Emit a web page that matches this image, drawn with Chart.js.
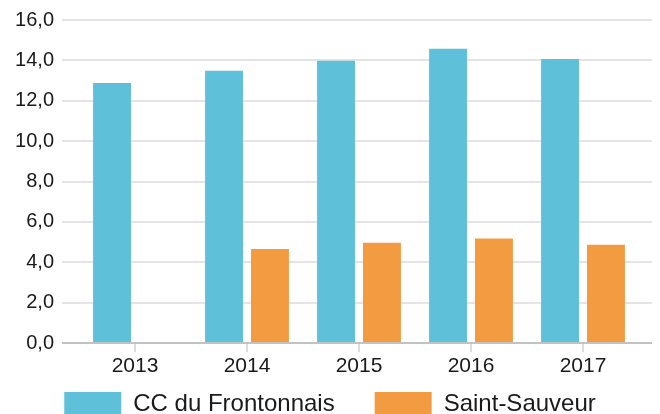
<!DOCTYPE html>
<html>
<head>
<meta charset="utf-8">
<script src="https://cdn.jsdelivr.net/npm/chart.js@4"></script>
<style>
    html, body { margin: 0; padding: 0; background: #fff; overflow: hidden; }
    #wrap { width: 660px; height: 426px; }
</style>
</head>
<body>
<div id="wrap"><canvas id="barChart"></canvas></div>
<script>
// Chart data
const years = ["2013", "2014", "2015", "2016", "2017"];
const frontonnais = [12.88, 13.48, 13.98, 14.57, 14.07];
const saintSauveur = [null, 4.66, 4.97, 5.18, 4.87];
const yTickLabels = ["0,0", "2,0", "4,0", "6,0", "8,0", "10,0", "12,0", "14,0", "16,0"];

const FONT = "'Liberation Sans', Arial, sans-serif";
const GRID = "#e4e4e4";
const ZERO_LINE = "#c2c2c2";

function gridColor(ctx) {
    return ctx.tick && ctx.tick.value === 0 ? ZERO_LINE : GRID;
}

window.addEventListener("DOMContentLoaded", () => {
    const el = document.getElementById("barChart");

    new Chart(el, {
        type: "bar",
        data: {
            labels: years,
            datasets: [
                {
                    label: "CC du Frontonnais",
                    data: frontonnais,
                    backgroundColor: "#5fc1d9",
                    yAxisID: "y"
                },
                {
                    label: "Saint-Sauveur",
                    data: saintSauveur,
                    backgroundColor: "#f39b41",
                    yAxisID: "y"
                }
            ]
        },
        options: {
            responsive: true,
            maintainAspectRatio: false,
            animation: false,
            categoryPercentage: 0.82,
            barPercentage: 0.826,
            layout: { padding: { top: 19, left: 0, right: 0, bottom: 0 } },
            plugins: {
                tooltip: { enabled: false },
                legend: {
                    position: "bottom",
                    align: "center",
                    labels: {
                        color: "#1a1a1a",
                        font: { family: FONT, size: 24 },
                        boxWidth: 57,
                        boxHeight: 24,
                        padding: 40
                    }
                }
            },
            scales: {
                x: {
                    offset: true,
                    border: { display: false },
                    grid: {
                        offset: false,
                        drawOnChartArea: false,
                        drawTicks: true,
                        tickLength: 9,
                        color: "#dcdcdc",
                        lineWidth: 2
                    },
                    ticks: {
                        color: "#1a1a1a",
                        font: { family: FONT, size: 21 },
                        padding: 2,
                        maxRotation: 0
                    },
                    // short axis box so the legend's top padding sits under the labels;
                    // labels are drawn without clipping to that box
                    afterFit(scale) {
                        scale.height = 9;
                        scale._computeLabelArea = () => undefined;
                    }
                },
                y: {
                    position: "left",
                    min: 0,
                    max: 16,
                    border: { display: false },
                    grid: {
                        color: gridColor,
                        lineWidth: 2,
                        drawTicks: true,
                        tickLength: 17
                    },
                    ticks: {
                        stepSize: 2,
                        color: "#1a1a1a",
                        font: { family: FONT, size: 20 },
                        padding: 8,
                        callback: (value, i) => yTickLabels[i]
                    },
                    afterFit(scale) { scale.width = 79; }
                },
                yRight: {
                    position: "right",
                    min: 0,
                    max: 16,
                    border: { display: false },
                    grid: {
                        color: gridColor,
                        lineWidth: 2,
                        drawOnChartArea: false,
                        drawTicks: true,
                        tickLength: 13
                    },
                    ticks: { display: false, stepSize: 2 },
                    afterFit(scale) { scale.width = 21; }
                }
            }
        }
    });
});
</script>
</body>
</html>
